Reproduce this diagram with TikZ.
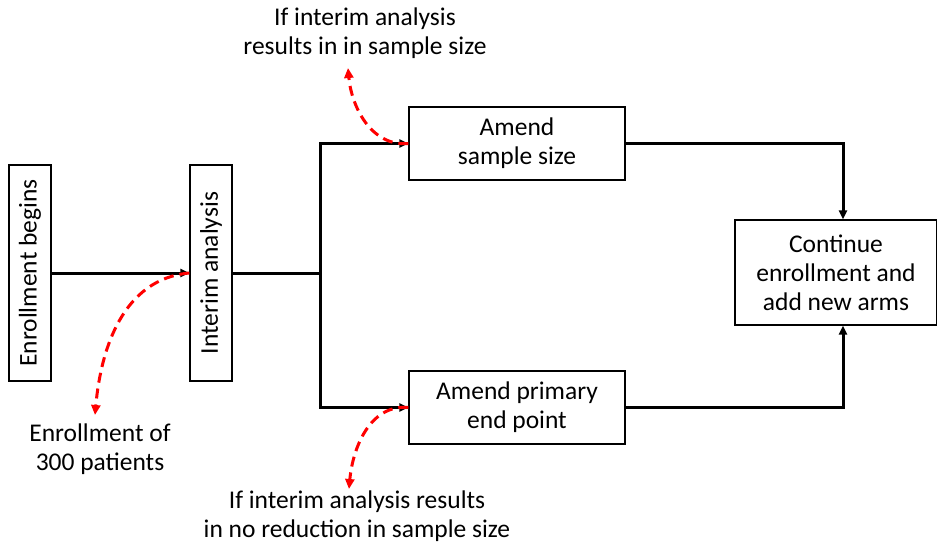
\documentclass[tikz,border=0pt]{standalone}
\usepackage{fontspec}
\setmainfont{Carlito}
\usetikzlibrary{arrows.meta}
\begin{document}
\begin{tikzpicture}[x=1pt,y=-1pt,
  font=\fontsize{25.5}{29}\selectfont,
  box/.style={draw=black,line width=1.3pt,inner sep=0pt,align=center},
  flow/.style={draw=black,line width=3pt,-{Triangle[length=9pt,width=8pt]}},
  flowplain/.style={draw=black,line width=3pt},
  note/.style={draw=red,line width=3pt,dash pattern=on 10pt off 6pt,-{Triangle[length=10pt,width=9pt]}},
  txt/.style={align=center,inner sep=0pt}]
\useasboundingbox (0,0) rectangle (937,544);
\node[box,minimum width=42pt,minimum height=216pt] (eb) at (30,273) {};
\node[rotate=90,txt] at (eb.center) {Enrollment begins};
\node[box,minimum width=42pt,minimum height=216pt] (ia) at (211,273) {};
\node[rotate=90,txt] at (ia.center) {Interim analysis};
\node[box,minimum width=216pt,minimum height=73pt] (ss) at (517,143.5) {Amend\\sample size};
\node[box,minimum width=216pt,minimum height=73pt] (pe) at (517,407.5) {Amend primary\\end point};
\node[box,minimum width=202pt,minimum height=105pt] (ce) at (836,272.5) {Continue\\enrollment and\\add new arms};
\coordinate (split) at (320,273);
\draw[flow] (eb.east) -- (ia.west);
\draw[flowplain] (ia.east) -- (split);
\draw[flow] (split) |- (ss.west);
\draw[flow] (split) |- (pe.west);
\draw[flow] (ss.east) -| ([xshift=7pt]ce.north);
\draw[flow] (pe.east) -| ([xshift=7pt]ce.south);
\node[txt] (t1) at (365,33) {If interim analysis\\results in in sample size};
\node[txt] (t2) at (100,449) {Enrollment of\\300 patients};
\node[txt] (t3) at (357,516) {If interim analysis results\\in no reduction in sample size};
\coordinate (c1) at (95,415);
\coordinate (c2) at (348,68);
\coordinate (c3) at (349,489);
\draw[note] (ia.west) to[out=185,in=85] (c1);
\draw[note] (ss.west) to[out=185,in=-85] (c2);
\draw[note] (pe.west) to[out=175,in=85] (c3);
\end{tikzpicture}
\end{document}
